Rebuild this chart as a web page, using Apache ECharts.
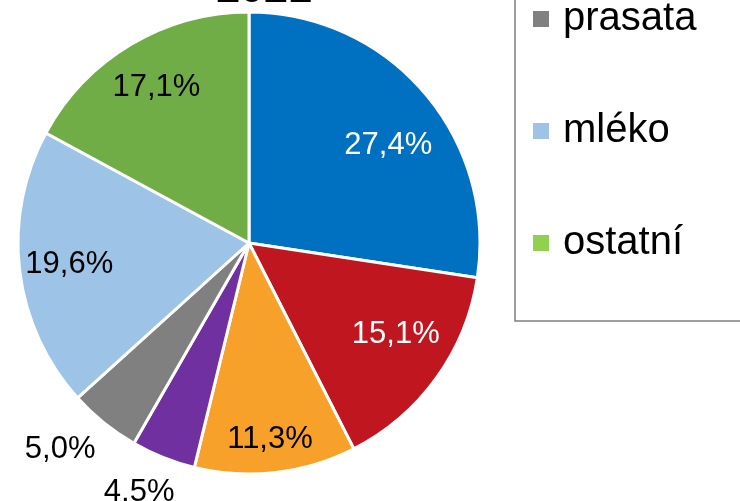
<!DOCTYPE html>
<html lang="cs">
<head>
<meta charset="utf-8">
<title>2021</title>
<script src="https://cdn.jsdelivr.net/npm/echarts@6/dist/echarts.min.js"></script>
<style>
  html, body { margin: 0; padding: 0; background: #fff; }
  #main { width: 740px; height: 501px; }
</style>
</head>
<body>
<div id="main"></div>
<script>
// podíly 2021 (%), po směru hodin od 12 hodin
var kategorie = ['obiloviny', 'olejniny', 'ostatní rostlinná výroba', 'skot', 'prasata', 'mléko', 'ostatní'];
var podil = [27.4, 15.1, 11.3, 4.5, 5.0, 19.6, 17.1];
var barvy = ['#0070c0', '#c0161f', '#f8a12a', '#7030a0', '#808080', '#9dc3e6', '#70ad47'];
var barvyLegendy = ['#0070c0', '#c0161f', '#f8a12a', '#7030a0', '#808080', '#9dc3e6', '#92d050'];
var bileStitky = ['obiloviny', 'olejniny'];
var venkovniStitky = ['skot', 'prasata'];

var font = '"Liberation Sans", Arial, sans-serif';
var cx = 249, cy = 243, r = 231;

// drobné posuny popisků, jak je rozmístil Excel
var posun = {
  'obiloviny': [2, 20],
  'olejniny': [0, -14],
  'ostatní rostlinná výroba': [0, 17],
  'skot': [-10, 0],
  'prasata': [-20, -3]
};

function fmt(v) {
  return v.toFixed(1).replace('.', ',') + '%';
}

var plochy = [], vnitrni = [], vnejsi = [];
for (var i = 0; i < kategorie.length; i++) {
  var k = kategorie[i];
  var venku = venkovniStitky.indexOf(k) >= 0;
  plochy.push({ name: k, value: podil[i], itemStyle: { color: barvy[i] } });
  vnitrni.push({
    name: k, value: podil[i],
    label: { show: !venku, color: bileStitky.indexOf(k) >= 0 ? '#fff' : '#000', offset: posun[k] || [0, 0] }
  });
  vnejsi.push({
    name: k, value: podil[i],
    label: { show: venku, offset: posun[k] || [0, 0] }
  });
}

var pruhledna = { color: 'rgba(0,0,0,0)', borderWidth: 0 };

var option = {
  animation: false,
  title: {
    text: '2021',
    left: 259, top: -36,
    textAlign: 'center',
    textStyle: { fontFamily: font, fontSize: 43, fontWeight: 'bold', color: '#000' }
  },
  legend: {
    orient: 'vertical',
    left: 515, top: -516,
    padding: [58, 60, 49, 16],
    borderColor: '#7f7f7f', borderWidth: 1.5,
    icon: 'rect', itemWidth: 18, itemHeight: 18, itemGap: 54,
    textStyle: { fontFamily: font, fontSize: 40, lineHeight: 40, color: '#000', padding: [18, 0, 0, 8] },
    data: kategorie.map(function (k, i) {
      return { name: k, itemStyle: { color: barvyLegendy[i] } };
    })
  },
  series: [
    {
      type: 'pie',
      center: [cx, cy], radius: r,
      startAngle: 90, clockwise: true,
      label: { show: false }, labelLine: { show: false },
      itemStyle: { borderColor: '#fff', borderWidth: 3 },
      emphasis: { disabled: true },
      data: plochy
    },
    {
      type: 'pie', silent: true,
      center: [cx, cy], radius: [125, r],
      startAngle: 90, clockwise: true,
      avoidLabelOverlap: false,
      itemStyle: pruhledna,
      label: { position: 'inside', fontFamily: font, fontSize: 31, formatter: function (p) { return fmt(p.value); } },
      labelLine: { show: false },
      emphasis: { disabled: true },
      data: vnitrni
    },
    {
      type: 'pie', silent: true,
      center: [cx, cy], radius: [r, 301],
      startAngle: 90, clockwise: true,
      avoidLabelOverlap: false,
      itemStyle: pruhledna,
      label: { position: 'inside', fontFamily: font, fontSize: 31, color: '#000', formatter: function (p) { return fmt(p.value); } },
      labelLine: { show: false },
      emphasis: { disabled: true },
      data: vnejsi
    }
  ]
};

var chart = echarts.init(document.getElementById('main'));
chart.setOption(option);
</script>
</body>
</html>
